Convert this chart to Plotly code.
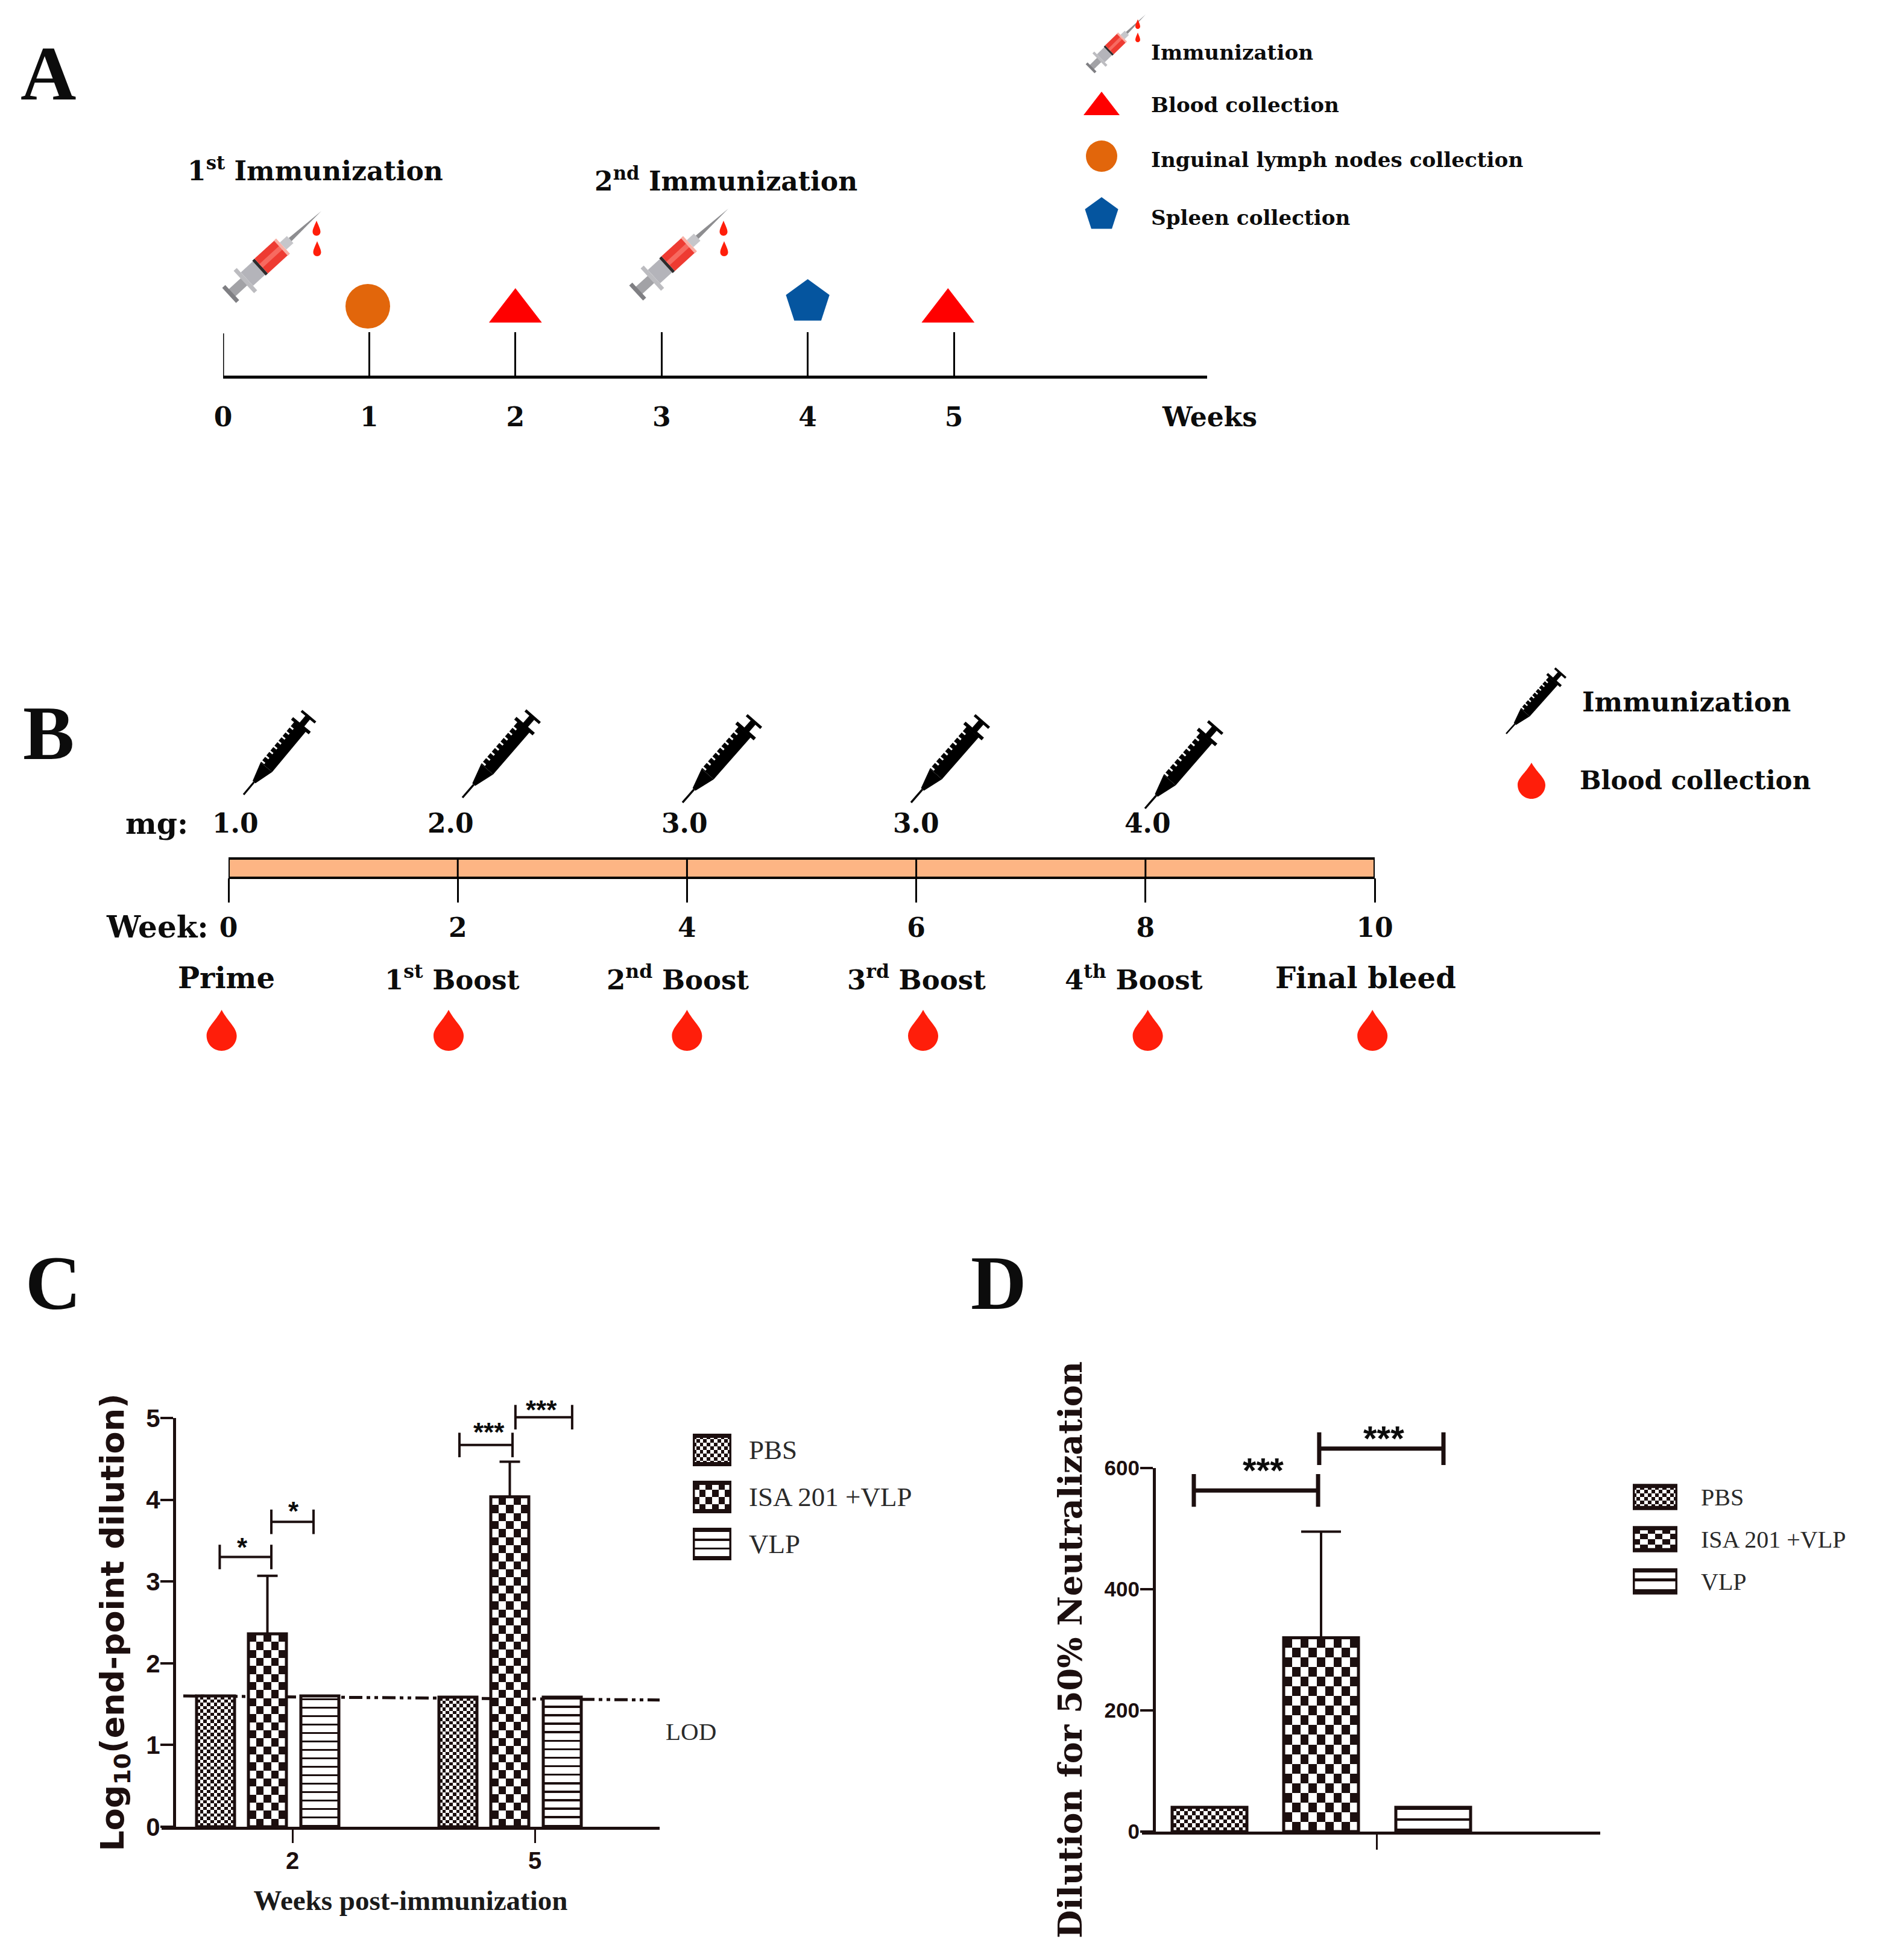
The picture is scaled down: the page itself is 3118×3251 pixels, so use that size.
import math
import plotly.graph_objects as go

W, H = 3118, 3251
INK = "#1c0f0f"
SERIF_W = "DejaVu Serif"
SERIF = "Liberation Serif"
SANS = "Liberation Sans"
GROUPS = ["PBS", "ISA 201 +VLP", "VLP"]

# ---- Panel A data
a_weeks = [0, 1, 2, 3, 4, 5]
a_event_titles = ["1<sup>st</sup> Immunization", "2<sup>nd</sup> Immunization"]
a_legend = ["Immunization", "Blood collection", "Inguinal lymph nodes collection", "Spleen collection"]
a_lymph_week = [0.99]
a_blood_weeks = [2.0, 4.96]
a_spleen_week = [4.0]

# ---- Panel B data
b_weeks = [0, 2, 4, 6, 8, 10]
b_dose_weeks = [0.06, 1.94, 3.98, 6.0, 8.02]
b_doses = ["1.0", "2.0", "3.0", "3.0", "4.0"]
b_stages = ["Prime", "1<sup>st</sup> Boost", "2<sup>nd</sup> Boost", "3<sup>rd</sup> Boost", "4<sup>th</sup> Boost", "Final bleed"]
b_stage_sizes = [48, 45, 45, 45, 45, 48]
b_stage_weeks = [-0.02, 1.95, 3.92, 6.0, 7.9, 9.92]
b_blood_weeks = [-0.06, 1.92, 4.0, 6.06, 8.02, 9.98]
b_legend = ["Immunization", "Blood collection"]

# ---- Panel C data
c_weeks = ["2", "5"]
c_pbs = [1.60, 1.585]
c_isa = [2.36, 4.035]
c_vlp = [1.60, 1.585]
c_isa_err = [0.71, 0.43]
c_lod = [1.60, 1.55]

# ---- Panel D data
d_pbs = [40]
d_isa = [320]
d_vlp = [40]
d_isa_err = [175]


def X(px):
    return px / W


def Y(py):
    return 1 - py / H


# axis scales (pixel geometry of each panel)
AX0, AU = 370, 242.4      # panel A: week 0 pixel, pixels per week
BX0, BU = 379, 190.1      # panel B
CX0, CU = 485, 402        # panel C: first group tick, pixels per group
CY0, CV = 3030, 135.6     # panel C: y=0 pixel, pixels per unit
DX0, DU = 2283, 185
DY0, DV = 3038, 1.005

fig = go.Figure()
shapes = []
notes = []


def note(px, py, text, size, family=SERIF_W, bold=True, anchor="center", color="#0c0c0c", angle=0):
    notes.append(dict(x=X(px), y=Y(py), xref="paper", yref="paper", text=text, showarrow=False,
                      xanchor=anchor, yanchor="middle", textangle=angle,
                      font=dict(family=family, size=size, color=color, weight=700 if bold else 400)))


def poly(points, color, xf=X, yf=Y, xref="paper", yref="paper"):
    d = "M " + " L ".join(f"{xf(p[0]):.5f} {yf(p[1]):.5f}" for p in points) + " Z"
    shapes.append(dict(type="path", path=d, xref=xref, yref=yref, fillcolor=color, line=dict(width=0)))


def frame(p0, p1, length):
    dx, dy = p1[0] - p0[0], p1[1] - p0[1]
    d = math.hypot(dx, dy)
    ux, uy = dx / d, dy / d
    k = d / length

    def pt(t, s):
        return (p0[0] + (ux * t + uy * s) * k, p0[1] + (uy * t - ux * s) * k)
    return pt


def strip(pt, t0, t1, s0, s1, color, s0b=None, s1b=None):
    s0b = s0 if s0b is None else s0b
    s1b = s1 if s1b is None else s1b
    poly([pt(t0, s0), pt(t1, s0b), pt(t1, s1b), pt(t0, s1)], color)


def colour_syringe(base, tip):
    pt = frame(base, tip, 207)
    strip(pt, 3, 36, -8, 8, "#a2a2a6")
    strip(pt, 0, 7, -17, 17, "#7f7f83")
    strip(pt, 33, 40, -25, 25, "#bcbcc0")
    strip(pt, 40, 70, -15, 15, "#b4b4ba")
    strip(pt, 67, 72, -16.5, 16.5, "#2c2c2c")
    strip(pt, 72, 117, -16.5, 16.5, "#ee3b32")
    strip(pt, 72, 117, -3.5, 4.5, "#f76a60")
    strip(pt, 116, 121, -17, 17, "#f8b0a6")
    strip(pt, 121, 137, -8, 8, "#c6c6ca")
    strip(pt, 137, 207, -3.5, 3.5, "#8d8d90", 0, 0)


def black_syringe(top, tip):
    pt = frame(top, tip, 170)
    c = "#000000"
    strip(pt, 0, 4.5, -15, 15, c)
    strip(pt, 4, 22, -5, 5, c)
    strip(pt, 19, 24.5, -19, 19, c)
    strip(pt, 24, 111, -12.5, 12.5, c)
    strip(pt, 111, 143, -12.5, 12.5, c, -3, 3)
    strip(pt, 143, 170, -1.6, 1.6, c)
    for k in range(8):
        strip(pt, 33 + 10.5 * k, 36 + 10.5 * k, -13.5, -6, "#ffffff")


def drop_path(cx, top, bot, w):
    h = bot - top
    r = w / 2
    cy = bot - r
    return [("M", (cx, top)),
            ("C", (cx - .22 * w, top + .3 * h), (cx - r, cy - .2 * h), (cx - r, cy)),
            ("C", (cx - r, cy + .55 * r), (cx - .55 * r, bot), (cx, bot)),
            ("C", (cx + .55 * r, bot), (cx + r, cy + .55 * r), (cx + r, cy)),
            ("C", (cx + r, cy - .2 * h), (cx + .22 * w, top + .3 * h), (cx, top))]


def drop(cx, top, bot, w, color="#ff1e0a"):
    d = ""
    for seg in drop_path(cx, top, bot, w):
        d += seg[0] + " " + " ".join(f"{X(p[0]):.5f} {Y(p[1]):.5f}" for p in seg[1:]) + " "
    shapes.append(dict(type="path", path=d + "Z", xref="paper", yref="paper", fillcolor=color, line=dict(width=0)))


def line(xs, ys, xa, ya, width=4, color=INK):
    fig.add_trace(go.Scatter(x=xs, y=ys, mode="lines", xaxis=xa, yaxis=ya, cliponaxis=False,
                             line=dict(color=color, width=width), hoverinfo="skip", showlegend=False))


def fill(kind, x0, w, base, h, xu, yu, xa, ya, cw, ch):
    """Pattern cells behind a bar outline; cw/ch are cell sizes in pixels."""
    nc = max(1, round(w * xu / cw))
    nr = max(1, round(h * yu / ch))
    if kind == "check":
        z = [[(i + j) % 2 for i in range(nc)] for j in range(nr)]
    else:
        z = [[1 if j % 4 == 0 else 0 for i in range(nc)] for j in range(nr)]
    dx, dy = w / nc, h / nr
    fig.add_trace(go.Heatmap(z=z, x0=x0 + dx / 2, dx=dx, y0=base + dy / 2, dy=dy, xaxis=xa, yaxis=ya,
                             colorscale=[[0, "#ffffff"], [1, INK]], zmin=0, zmax=1, showscale=False,
                             hoverinfo="skip"))


def outline_bar(xs, ys, offset, width, xa, ya, lw=5, err=None, cap=17, base=None):
    kw = {}
    if err is not None:
        kw["error_y"] = dict(type="data", array=err, arrayminus=[0] * len(err), symmetric=False,
                             thickness=4, width=cap, color=INK)
    if base is not None:
        kw["base"] = base
    fig.add_trace(go.Bar(x=xs, y=ys, offset=offset, width=width, xaxis=xa, yaxis=ya,
                         marker=dict(color="rgba(0,0,0,0)", line=dict(color=INK, width=lw)),
                         hoverinfo="skip", showlegend=False, **kw))


# ======================= Panel A =======================
note(80, 122, "A", 128, SERIF)
for i, (t, px, py) in enumerate(zip(a_event_titles, [523, 1204], [280, 298])):
    note(px, py, t, 44)
colour_syringe((380, 490), (533, 350))
colour_syringe((1055, 486), (1208, 346))
for cx in (525, 1200):
    drop(cx, 366, 391, 13)
    drop(cx + 1, 400, 425, 13)
colour_syringe((1808, 114), (1900, 24))
drop(1887, 32, 48, 8)
drop(1887, 54, 70, 8)

mk = dict(xaxis="x", yaxis="y", mode="markers", cliponaxis=False, hoverinfo="skip", showlegend=False)
fig.add_trace(go.Scatter(x=a_lymph_week, y=[508], marker=dict(symbol="circle", size=74, color="#e2660b", line=dict(width=0)), **mk))
fig.add_trace(go.Scatter(x=a_blood_weeks, y=[516, 516], marker=dict(symbol="triangle-up", size=76, color="#ff0000", line=dict(width=0)), **mk))
fig.add_trace(go.Scatter(x=a_spleen_week, y=[501], marker=dict(symbol="pentagon", size=76, color="#05559f", line=dict(width=0)), **mk))
# week-0 tick (an inside tick at the axis edge is not drawn) and the arrow head
line([a_weeks[0], a_weeks[0]], [553, 625], "x", "y", 3, "#000000")
fig.add_trace(go.Scatter(x=[(2006 - AX0) / AU], y=[625], marker=dict(symbol="triangle-right", size=20, color="#000000", line=dict(width=0)), **mk))
# legend keys
lx = (1827 - AX0) / AU
fig.add_trace(go.Scatter(x=[lx], y=[178], marker=dict(symbol="triangle-up", size=52, color="#ff0000", line=dict(width=0)), **mk))
fig.add_trace(go.Scatter(x=[lx], y=[259], marker=dict(symbol="circle", size=52, color="#e2660b", line=dict(width=0)), **mk))
fig.add_trace(go.Scatter(x=[lx], y=[356], marker=dict(symbol="pentagon", size=58, color="#05559f", line=dict(width=0)), **mk))
for t, py in zip(a_legend, [87, 174, 265, 361]):
    note(1907, py, t, 34.2, anchor="left")
note(2006, 691, "Weeks", 44)

# ======================= Panel B =======================
note(80, 1216, "B", 128, SERIF)
for t, t0 in zip(b_dose_weeks, [(404, 1318, 513, 1187), (767, 1323, 885, 1187), (1132, 1331, 1252, 1195), (1511, 1331, 1630, 1195), (1899, 1341, 2017, 1205)]):
    black_syringe((t0[2], t0[3]), (t0[0], t0[1]))
black_syringe((2589, 1115), (2498, 1217))
drop(2540, 1265, 1325, 46)
for t, py, px, sz in zip(b_legend, [1165, 1294], [2622, 2618], [44, 42]):
    note(px, py, t, sz, anchor="left")
note(260, 1366, "mg:", 49)
for w, d in zip(b_dose_weeks, b_doses):
    note(BX0 + BU * w, 1366, d, 44)
shapes.append(dict(type="rect", xref="x2", yref="paper", x0=b_weeks[0], x1=b_weeks[-1], y0=Y(1456), y1=Y(1424),
                   fillcolor="#fdb584", line=dict(color="#000000", width=4), layer="below"))
inner_x, inner_y = [], []
for w in b_weeks[1:-1]:
    inner_x += [w, w, None]
    inner_y += [1424, 1458, None]
line(inner_x, inner_y, "x2", "y", 3, "#000000")
note(261, 1537, "Week:", 50)
for w, t, sz in zip(b_stage_weeks, b_stages, b_stage_sizes):
    note(BX0 + BU * w, 1622, t, sz)
for w in b_blood_weeks:
    drop(BX0 + BU * w, 1675, 1743, 50)

# ======================= Panel C =======================
note(88, 2128, "C", 128, SERIF)
C_W = 63 / CU
c_x = [0, 1]
c_off = [(326 - CX0) / CU, (412 - CX0) / CU, (499 - CX0) / CU]
shapes.append(dict(type="line", xref="x3", yref="y3", x0=(304 - CX0) / CU, x1=(1099 - CX0) / CU,
                   y0=c_lod[0], y1=c_lod[1], layer="below",
                   line=dict(color=INK, width=5, dash="22px,7px,6px,7px,6px,7px")))
for k, (vals, cell, kind, off) in enumerate([(c_pbs, (5.6, 5.6), "check", c_off[0]),
                                             (c_isa, (11.5, 13.4), "check", c_off[1]),
                                             (c_vlp, (63, 3.5), "strip", c_off[2])]):
    for gx, v in zip(c_x, vals):
        fill(kind, gx + off, C_W, 0, v, CU, CV, "x3", "y3", *cell)
    outline_bar(c_x, vals, off, C_W, "x3", "y3", err=c_isa_err if k == 1 else None)

for (xa, xb, yc, h) in [(-.30, -.087, 3.30, .15), (-.087, .087, 3.73, .15), (.689, .908, 4.67, .15), (.92, 1.154, 5.01, .15)]:
    line([xa, xa, None, xa, xb, None, xb, xb], [yc - h, yc + h, None, yc, yc, None, yc - h, yc + h], "x3", "y7", 4)
for px, py, t in [(402, 2566, "*"), (487, 2506, "*"), (811, 2375, "***"), (898, 2338, "***")]:
    note(px, py, t, 44, SANS)
note(1146, 2872, "LOD", 41, SERIF, bold=False, color="#2a2a2a")

# legend C
for r, (name, cell, kind) in enumerate(zip(GROUPS, [(5.6, 5.6), (11.5, 11.5), (60, 3.5)], ["check", "check", "strip"])):
    b = 2 - r + .2
    fill(kind, 0, 1, b, .6, 64, 78, "x5", "y5", *cell)
    outline_bar([0.5], [.6], -.5, 1, "x5", "y5", lw=7, base=[b])
    note(1240, 2405 + 78 * r, name, 45, SERIF, bold=False, anchor="left", color="#2a2a2a")

# ======================= Panel D =======================
note(1656, 2128, "D", 128, SERIF)
D_W = 124 / DU
d_x = [0]
d_off = [(1944 - DX0) / DU, (2129 - DX0) / DU, (2315 - DX0) / DU]
for k, (vals, cell, kind, off) in enumerate([(d_pbs, (6.7, 6.7), "check", d_off[0]),
                                             (d_isa, (13.3, 15.7), "check", d_off[1]),
                                             (d_vlp, (124, 4.5), "strip", d_off[2])]):
    fill(kind, off, D_W, 0, vals[0], DU, DV, "x4", "y4", *cell)
    outline_bar(d_x, vals, off, D_W, "x4", "y4", err=d_isa_err if k == 1 else None, cap=33)
for (xa, xb, yc, h) in [(-1.638, -.524, 563, 27), (-.514, .6, 632, 27)]:
    line([xa, xa, None, xa, xb, None, xb, xb], [yc - h, yc + h, None, yc, yc, None, yc - h, yc + h], "x4", "y8", 7)
for px, py, t in [(2095, 2438, "***"), (2295, 2385, "***")]:
    note(px, py, t, 58, SANS)

# legend D
for r, (name, cell, kind) in enumerate(zip(GROUPS, [(6.2, 6.2), (12, 9), (74, 4.5)], ["check", "check", "strip"])):
    b = 2 - r + .24
    fill(kind, 0, 1, b, .52, 74, 70, "x6", "y6", *cell)
    outline_bar([0.5], [.52], -.5, 1, "x6", "y6", lw=7, base=[b])
    note(2819, 2483 + 70 * r, name, 40, SERIF, bold=False, anchor="left", color="#2a2a2a")

# ======================= Layout =======================
hidden = dict(visible=False, showgrid=False, zeroline=False)
tick_a = dict(family=SERIF_W, size=44, color="#0c0c0c", weight=700)
num = dict(family=SANS, color=INK, weight=700)
fig.update_layout(
    width=W, height=H, autosize=False, margin=dict(l=0, r=0, t=0, b=0, pad=0, autoexpand=False),
    paper_bgcolor="white", plot_bgcolor="rgba(0,0,0,0)", showlegend=False, barmode="overlay",
    shapes=shapes, annotations=notes,
    xaxis=dict(domain=[X(AX0), X(2002)], range=[0, (2002 - AX0) / AU], anchor="free", position=Y(625),
               tickvals=a_weeks, ticktext=[str(w) for w in a_weeks], ticks="inside", ticklen=72, tickwidth=3,
               tickcolor="#000000", showline=True, linecolor="#000000", linewidth=5, showgrid=False, zeroline=False,
               tickfont=tick_a, ticklabelstandoff=26),
    yaxis=dict(domain=[0, 1], range=[H, 0], **hidden),
    xaxis2=dict(domain=[X(BX0), X(BX0 + 10 * BU)], range=[0, 10], anchor="free", position=Y(1456),
                tickvals=b_weeks, ticktext=[str(w) for w in b_weeks], ticks="outside", ticklen=40, tickwidth=3,
                tickcolor="#000000", showline=False, showgrid=False, zeroline=False, tickfont=tick_a,
                ticklabelstandoff=4),
    xaxis3=dict(domain=[X(268), X(1094)], range=[(268 - CX0) / CU, (1094 - CX0) / CU], anchor="y3",
                tickvals=c_x, ticktext=c_weeks, ticks="outside", ticklen=22, tickwidth=3, tickcolor=INK,
                showline=True, linecolor=INK, linewidth=5, showgrid=False, zeroline=False,
                tickfont=dict(size=40, **num), ticklabelstandoff=-5,
                title=dict(text="Weeks post-immunization", font=dict(family=SERIF, size=47, color="#1a1a1a", weight=700), standoff=30)),
    yaxis3=dict(domain=[Y(CY0), Y(CY0 - 5 * CV)], range=[0, 5], anchor="free", position=X(289),
                tickvals=[0, 1, 2, 3, 4, 5], ticks="outside", ticklen=21, tickwidth=4, tickcolor=INK,
                showline=True, linecolor=INK, linewidth=5, showgrid=False, zeroline=False,
                tickfont=dict(size=42, **num), ticklabelstandoff=-8,
                title=dict(text="Log<sub>10</sub>(end-point dilution)", font=dict(family="DejaVu Sans", size=54, color=INK, weight=700), standoff=18)),
    xaxis4=dict(domain=[X(1894), X(2654)], range=[(1894 - DX0) / DU, (2654 - DX0) / DU], anchor="y4",
                tickvals=d_x, ticktext=[" "], ticks="outside", ticklen=25, tickwidth=3, tickcolor=INK,
                showline=True, linecolor=INK, linewidth=5, showgrid=False, zeroline=False),
    yaxis4=dict(domain=[Y(DY0), Y(DY0 - 600 * DV)], range=[0, 600], anchor="free", position=X(1914),
                tickvals=[0, 200, 400, 600], ticks="outside", ticklen=21, tickwidth=4, tickcolor=INK,
                showline=True, linecolor=INK, linewidth=5, showgrid=False, zeroline=False,
                tickfont=dict(size=35, **num), ticklabelstandoff=-6,
                title=dict(text="Dilution for 50% Neutralization", font=dict(family=SERIF_W, size=54, color=INK, weight=700), standoff=18)),
    xaxis5=dict(domain=[X(1149), X(1213)], range=[0, 1], anchor="y5", **hidden),
    yaxis5=dict(domain=[Y(2405 + 78 * 2.5), Y(2405 - 39)], range=[0, 3], anchor="x5", **hidden),
    xaxis6=dict(domain=[X(2708), X(2782)], range=[0, 1], anchor="y6", **hidden),
    yaxis6=dict(domain=[Y(2483 + 70 * 2.5), Y(2483 - 35)], range=[0, 3], anchor="x6", **hidden),
    # bracket layers: same scale as panels C and D, taller so brackets above the top tick are not clipped
    yaxis7=dict(domain=[Y(CY0), Y(CY0 - 5.6 * CV)], range=[0, 5.6], anchor="x3", **hidden),
    yaxis8=dict(domain=[Y(DY0), Y(DY0 - 700 * DV)], range=[0, 700], anchor="x4", **hidden),
)

fig.write_html("out.html", config=dict(displayModeBar=False),
               post_script="document.body.style.margin='0';document.documentElement.style.overflow='hidden';")
